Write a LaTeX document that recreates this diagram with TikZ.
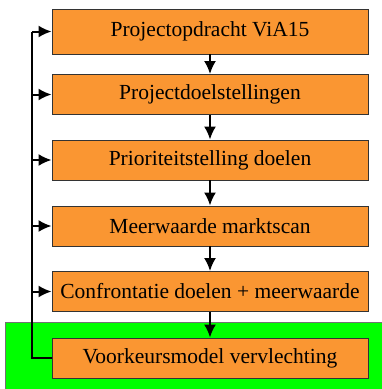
\documentclass[tikz,border=0pt]{standalone}
\usepackage{fontspec}
\setmainfont{Liberation Serif}
\usetikzlibrary{arrows.meta}

\definecolor{oranje}{RGB}{250,150,50}
\definecolor{groen}{RGB}{0,255,0}

\tikzset{
  stap/.style={draw=black!80, line width=0.9pt, fill=oranje, minimum width=316pt,
    minimum height=40pt, inner sep=0pt, font=\rmfamily\fontsize{21.5}{24}\selectfont},
  pijl/.style={-{Latex[length=13pt,width=12pt]}, line width=2pt},
  lijn/.style={line width=2pt},
}

\begin{document}
\begin{tikzpicture}[x=1pt, y=-1pt]
  \useasboundingbox (0,0) rectangle (382,389);

  % groene achtergrond
  \fill[groen] (5,322) rectangle (384,391);
  \draw[black!55, line width=0.9pt] (5,391) -- (5,322) -- (384,322);

  % stappen
  \node[stap, minimum height=45pt] (stap-1) at (210,31.5) {Projectopdracht ViA15};
  \foreach \i/\y/\t in {2/94.5/Projectdoelstellingen,
                        3/160/Prioriteitstelling doelen,
                        4/226/Meerwaarde marktscan,
                        5/291.5/Confrontatie doelen + meerwaarde,
                        6/358/Voorkeursmodel vervlechting}
  {
    \node[stap] (stap-\i) at (210,\y) {\t};
  }

  % pijlen naar beneden
  \foreach \i [evaluate=\i as \j using int(\i+1)] in {1,...,5}
  {
    \draw[pijl] (stap-\i) -- (stap-\j);
  }

  % terugkoppeling
  \coordinate (hoek) at (32,358);
  \coordinate (top) at (32,31.5);
  \draw[lijn] (stap-6.west) -- (hoek) -- (top);
  \foreach \i in {1,...,5}
  {
    \draw[pijl] (stap-\i.west -| hoek) -- (stap-\i.west);
  }
\end{tikzpicture}
\end{document}
